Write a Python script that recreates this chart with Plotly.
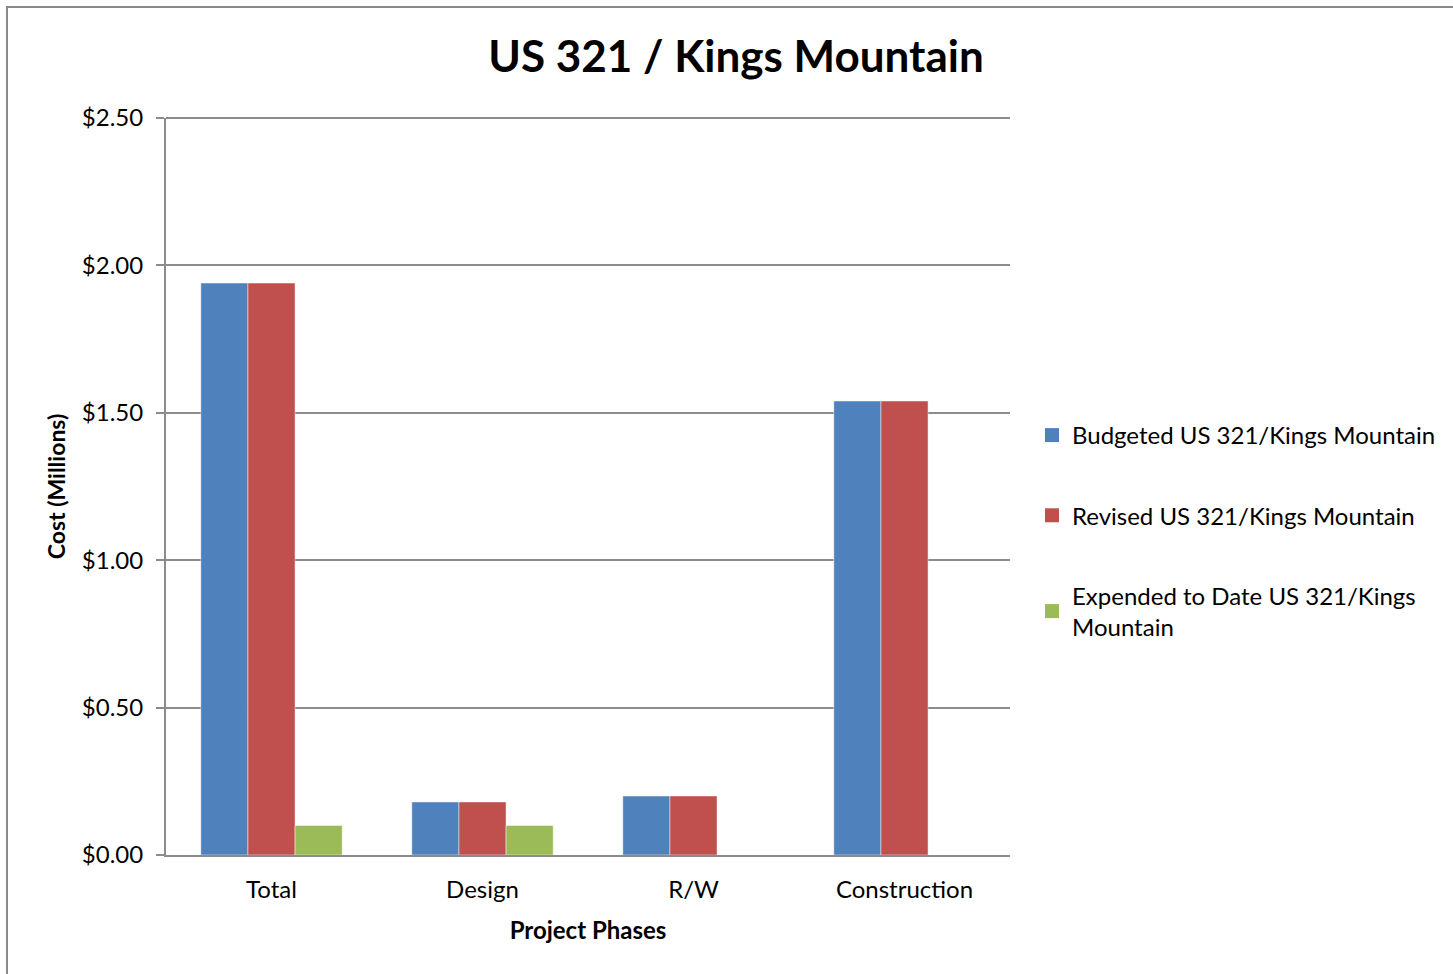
import plotly.graph_objects as go

phases = ["Total", "Design", "R/W", "Construction"]
budgeted = [1.94, 0.18, 0.20, 1.54]
revised = [1.94, 0.18, 0.20, 1.54]
expended = [0.10, 0.10, None, None]

series_names = [
    "Budgeted US 321/Kings Mountain",
    "Revised US 321/Kings Mountain",
    "Expended to Date US 321/Kings<br>Mountain",
]
series_colors = ["#4F81BD", "#C0504D", "#9BBB59"]

FONT = "Lato"
GRID = "#8c8c8c"

fig = go.Figure()
for i, (vals, name, color) in enumerate(zip([budgeted, revised, expended], series_names, series_colors)):
    fig.add_trace(go.Bar(
        x=phases, y=vals, name=name, legendgroup=f"g{i}", showlegend=False,
        marker=dict(color=color, line=dict(color="rgba(255,255,255,0.45)", width=1)),
    ))
    # square swatch used for the legend entry
    fig.add_trace(go.Scatter(
        x=[None], y=[None], mode="markers", name=name, legendgroup=f"g{i}",
        marker=dict(symbol="square", size=14, color=color),
    ))

W, H = 1453, 974
L, R, T, B = 166, 1453 - 1010, 118, 974 - 855
pw, ph = W - L - R, H - T - B

fig.update_layout(
    width=W, height=H,
    margin=dict(l=L, r=R, t=T, b=B, autoexpand=False),
    paper_bgcolor="white", plot_bgcolor="white",
    font=dict(family=FONT, size=24, color="black"),
    barmode="group", bargap=0.33, bargroupgap=0,
    title=dict(text="<b>US 321 / Kings Mountain</b>", font=dict(size=44, family=FONT),
               x=736 / W, xanchor="center", xref="container",
               y=1 - 57 / H, yanchor="middle", yref="container"),
    xaxis=dict(
        title=dict(text="<b>Project Phases</b>", font=dict(size=24), standoff=20),
        showgrid=False, showline=True, linecolor=GRID, linewidth=2,
        ticks="", tickfont=dict(size=24), ticklabelstandoff=12,
    ),
    yaxis=dict(
        title=dict(text="<b>Cost (Millions)</b>", font=dict(size=23), standoff=10),
        range=[0, 2.5], dtick=0.5, tickprefix="$", tickformat=".2f",
        showgrid=True, gridcolor=GRID, gridwidth=2,
        showline=True, linecolor=GRID, linewidth=2,
        ticks="outside", ticklen=8, tickcolor=GRID, tickwidth=2,
        tickfont=dict(size=24), ticklabelstandoff=8, zeroline=False,
    ),
    legend=dict(
        x=(1032 - L) / pw, xanchor="left",
        y=(855 - 413) / ph, yanchor="top",
        font=dict(size=24), tracegroupgap=46,
        bgcolor="rgba(0,0,0,0)",
    ),
    shapes=[
        # outer chart border
        dict(type="rect", xref="paper", yref="paper",
             x0=(7 - L) / pw, x1=2.0, y0=-1.0, y1=(855 - 7) / ph,
             line=dict(color="#8a8a8a", width=2), fillcolor="rgba(0,0,0,0)", layer="below"),
        # top gridline at the end of the value range
        dict(type="line", xref="paper", yref="paper", x0=0, x1=1, y0=1, y1=1,
             line=dict(color=GRID, width=2), layer="below"),
    ],
)

fig.write_html("out.html")
